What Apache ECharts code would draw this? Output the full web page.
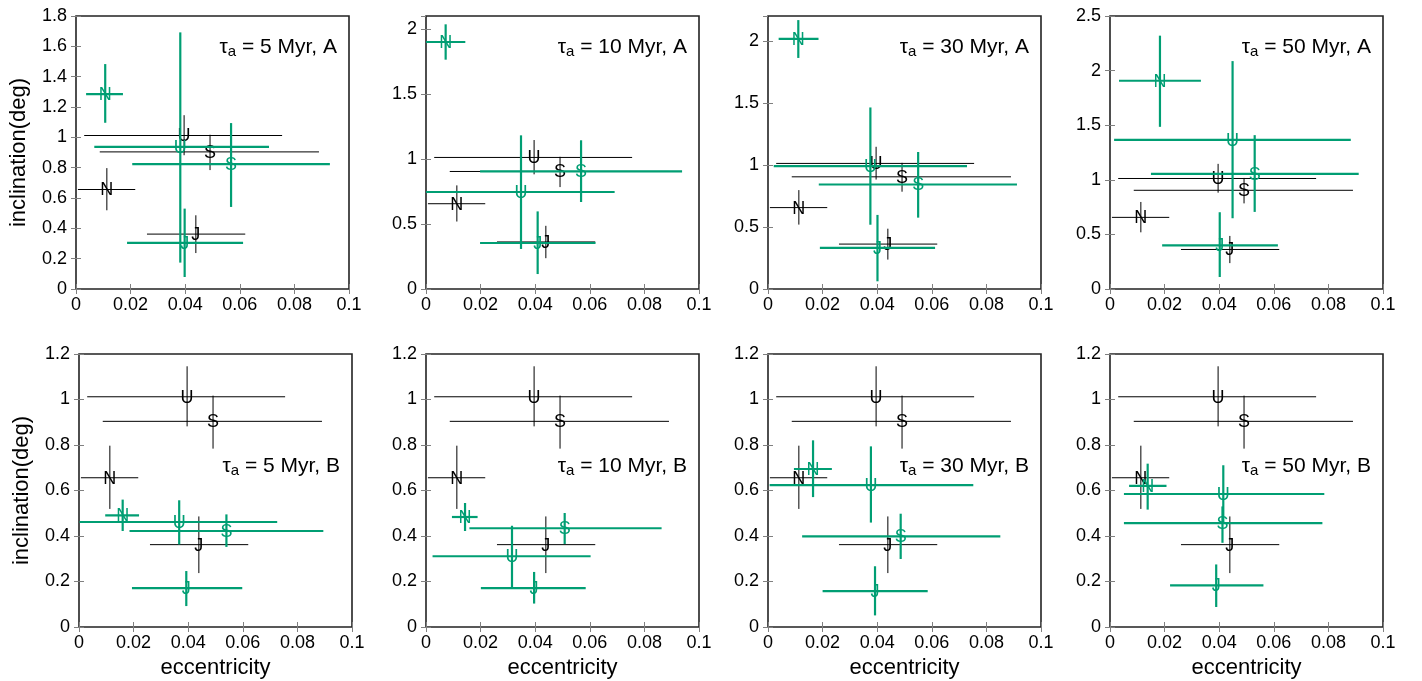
<!DOCTYPE html>
<html>
<head>
<meta charset="utf-8">
<script src="https://cdn.jsdelivr.net/npm/echarts@6/dist/echarts.min.js"></script>
<style>
html,body{margin:0;padding:0;background:#fff;}
#chart{width:1422px;height:681px;}
</style>
</head>
<body>
<div id="chart"></div>
<script>
// ---- data ----
const planetNames = ['J', 'S', 'U', 'N'];
// each row: [e, i, eLow, eHigh, iLow, iHigh]
const observed = [
  [0.0439, 0.362, 0.026, 0.062, 0.237, 0.486],
  [0.0491, 0.904, 0.0087, 0.089, 0.784, 1.017],
  [0.0396, 1.012, 0.003, 0.0755, 0.882, 1.146],
  [0.0113, 0.656, 0.0007, 0.0217, 0.519, 0.797]
];
const sim5A = [
  [0.0398, 0.304, 0.0187, 0.0612, 0.079, 0.530],
  [0.0568, 0.823, 0.0206, 0.093, 0.541, 1.094],
  [0.0382, 0.9375, 0.0067, 0.0707, 0.174, 1.692],
  [0.0107, 1.285, 0.0037, 0.0172, 1.096, 1.483]
];
const sim10A = [
  [0.0409, 0.354, 0.0198, 0.0621, 0.115, 0.597],
  [0.0568, 0.905, 0.0198, 0.0938, 0.669, 1.144],
  [0.0348, 0.746, 0.0, 0.0691, 0.308, 1.182],
  [0.0072, 1.900, 0.0, 0.0144, 1.764, 2.036]
];
const sim30A = [
  [0.0401, 0.332, 0.019, 0.0612, 0.062, 0.597],
  [0.055, 0.842, 0.0186, 0.0912, 0.575, 1.104],
  [0.0375, 0.991, 0.0021, 0.0729, 0.518, 1.463],
  [0.0111, 2.016, 0.0039, 0.0185, 1.862, 2.167]
];
const sim50A = [
  [0.0402, 0.400, 0.0191, 0.0615, 0.110, 0.703],
  [0.0530, 1.054, 0.0150, 0.0911, 0.706, 1.409],
  [0.0449, 1.366, 0.0015, 0.0882, 0.648, 2.087],
  [0.0183, 1.907, 0.0033, 0.0333, 1.485, 2.320]
];
const sim5B = [
  [0.0393, 0.171, 0.0194, 0.0598, 0.092, 0.246],
  [0.054, 0.422, 0.0185, 0.0895, 0.352, 0.495],
  [0.0367, 0.4615, 0.0002, 0.0726, 0.363, 0.557],
  [0.016, 0.491, 0.0096, 0.022, 0.422, 0.560]
];
const sim10B = [
  [0.0396, 0.171, 0.0201, 0.0585, 0.103, 0.242],
  [0.0508, 0.434, 0.0159, 0.0863, 0.365, 0.501],
  [0.0315, 0.311, 0.0024, 0.0603, 0.171, 0.445],
  [0.0143, 0.4835, 0.0095, 0.0189, 0.422, 0.545]
];
const sim30B = [
  [0.0392, 0.158, 0.020, 0.0585, 0.051, 0.267],
  [0.0486, 0.3985, 0.0125, 0.0851, 0.299, 0.498],
  [0.0377, 0.624, 0.0006, 0.0752, 0.459, 0.794],
  [0.0165, 0.6945, 0.0095, 0.0234, 0.571, 0.8205]
];
const sim50B = [
  [0.0389, 0.183, 0.022, 0.0562, 0.088, 0.275],
  [0.0412, 0.457, 0.0051, 0.0778, 0.37, 0.53],
  [0.0415, 0.5846, 0.0051, 0.0785, 0.457, 0.711],
  [0.0138, 0.620, 0.007, 0.0207, 0.516, 0.718]
];
const panelSims = [sim5A, sim10A, sim30A, sim50A, sim5B, sim10B, sim30B, sim50B];
const panelLabels = ['5 Myr, A', '10 Myr, A', '30 Myr, A', '50 Myr, A',
                     '5 Myr, B', '10 Myr, B', '30 Myr, B', '50 Myr, B'];
const yMaxes = [1.8, 2.1, 2.2, 2.5, 1.2, 1.2, 1.2, 1.2];
const yIntervals = [0.2, 0.5, 0.5, 0.5, 0.2, 0.2, 0.2, 0.2];
const xMax = 0.1, xInterval = 0.02;
const xTitle = 'eccentricity';
const yTitle = 'inclination(deg)';

// ---- layout / style ----
const gridPos = [
  [76, 16], [426, 16], [768, 16], [1110, 16],
  [79, 354], [426, 354], [768, 354], [1110, 354]
];
const GW = 273, GH = 273;
const FONT = '"Liberation Sans", Arial, Helvetica, sans-serif';
const GREEN = '#009e73';
const BLACK = '#000000';

const chart = echarts.init(document.getElementById('chart'), null, {renderer: 'canvas'});

function makeRender(color, width) {
  return function (params, api) {
    const e = api.value(0), inc = api.value(1);
    const c = api.coord([e, inc]);
    const l = api.coord([api.value(2), inc]);
    const r = api.coord([api.value(3), inc]);
    const b = api.coord([e, api.value(4)]);
    const t = api.coord([e, api.value(5)]);
    return {
      type: 'group',
      children: [
        {type: 'line', shape: {x1: l[0], y1: l[1], x2: r[0], y2: r[1]},
         style: {stroke: color, lineWidth: width}},
        {type: 'line', shape: {x1: t[0], y1: t[1], x2: b[0], y2: b[1]},
         style: {stroke: color, lineWidth: width}},
        {type: 'text', x: c[0], y: c[1] + 1,
         style: {text: planetNames[params.dataIndex], fill: color, fontSize: 18,
                 fontFamily: FONT, align: 'center', verticalAlign: 'middle'}}
      ]
    };
  };
}

const grids = [], xAxes = [], yAxes = [], series = [], graphics = [];
for (let p = 0; p < 8; p++) {
  const [left, top] = gridPos[p];
  grids.push({left: left, top: top, width: GW, height: GH, show: true,
              borderColor: '#222', borderWidth: 1.6, backgroundColor: 'transparent'});
  const tick = {show: true, inside: true, length: 5, lineStyle: {color: '#808080', width: 1}};
  const bottomRow = p >= 4, leftCol = (p % 4) === 0;
  xAxes.push({
    type: 'value', gridIndex: p, position: 'bottom', min: 0, max: xMax, interval: xInterval,
    axisLine: {show: false}, axisTick: tick, splitLine: {show: false},
    axisLabel: {show: true, color: '#000', fontSize: 18, fontFamily: FONT, margin: 7},
    name: bottomRow ? xTitle : '', nameLocation: 'middle', nameGap: 30,
    nameTextStyle: {color: '#000', fontSize: 22, fontFamily: FONT}
  });
  xAxes.push({
    type: 'value', gridIndex: p, position: 'top', min: 0, max: xMax, interval: xInterval,
    axisLine: {show: false}, axisTick: tick, splitLine: {show: false}, axisLabel: {show: false}
  });
  const yNice = Math.abs(yMaxes[p] / yIntervals[p] - Math.round(yMaxes[p] / yIntervals[p])) < 1e-6;
  yAxes.push({
    type: 'value', gridIndex: p, position: 'left', min: 0, max: yMaxes[p], interval: yIntervals[p],
    axisLine: {show: false}, axisTick: tick, splitLine: {show: false},
    axisLabel: {show: true, color: '#000', fontSize: 18, fontFamily: FONT, margin: 9,
                showMaxLabel: yNice},
    name: leftCol ? yTitle : '', nameLocation: 'middle', nameGap: 46,
    nameTextStyle: {color: '#000', fontSize: 22, fontFamily: FONT}
  });
  yAxes.push({
    type: 'value', gridIndex: p, position: 'right', min: 0, max: yMaxes[p], interval: yIntervals[p],
    axisLine: {show: false}, axisTick: tick, splitLine: {show: false}, axisLabel: {show: false}
  });
  series.push({
    type: 'custom', xAxisIndex: 2 * p, yAxisIndex: 2 * p,
    renderItem: makeRender(BLACK, 1), data: observed, z: 2, clip: false
  });
  series.push({
    type: 'custom', xAxisIndex: 2 * p, yAxisIndex: 2 * p,
    renderItem: makeRender(GREEN, 2.2), data: panelSims[p], z: 3, clip: false
  });
  const ty = bottomRow ? top + 112 : top + 31;
  graphics.push({
    type: 'text', x: left + GW - 12, y: ty, z: 10,
    style: {
      text: '{t|τ}{s|a}{t| = ' + panelLabels[p] + '}',
      align: 'right', verticalAlign: 'middle', fill: '#000',
      rich: {
        t: {fontSize: 21, fontFamily: FONT, lineHeight: 24, fill: '#000', verticalAlign: 'middle'},
        s: {fontSize: 15, fontFamily: FONT, lineHeight: 15, padding: [15, 0, 0, 0], fill: '#000', verticalAlign: 'bottom'}
      }
    }
  });
}

chart.setOption({
  animation: false,
  backgroundColor: '#fff',
  grid: grids,
  xAxis: xAxes,
  yAxis: yAxes,
  series: series,
  graphic: graphics
});
</script>
</body>
</html>
